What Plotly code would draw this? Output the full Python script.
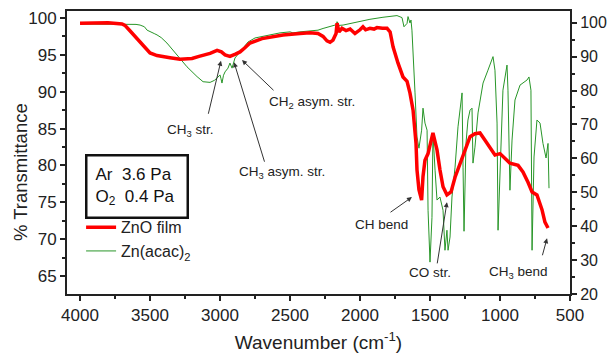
import plotly.graph_objects as go

# ZnO film (red) - left axis, % transmittance
zno_wn = [4000, 3900, 3800, 3700, 3679, 3650, 3600, 3550, 3500, 3450, 3400, 3357, 3286, 3200,
          3150, 3071, 3021, 2990, 2964, 2929, 2890, 2857, 2820, 2786, 2700, 2643, 2550, 2429,
          2357, 2300, 2264, 2236, 2214, 2193, 2171, 2164, 2150, 2129, 2100, 2071, 2050, 2036,
          2000, 1979, 1960, 1929, 1900, 1879, 1840, 1807, 1785, 1764, 1729, 1693, 1664, 1643,
          1621, 1600, 1593, 1579, 1560, 1550, 1536, 1514, 1479, 1450, 1429, 1407, 1379, 1350,
          1321, 1286, 1250, 1214, 1179, 1143, 1107, 1071, 1036, 1000, 964, 929, 871, 836, 800,
          771, 736, 700, 679, 657]
zno_t = [99.3, 99.3, 99.35, 99.2, 99.0, 98.4, 97.3, 96.2, 95.25, 94.9, 94.7, 94.6, 94.4, 94.5,
         94.8, 95.2, 95.6, 95.4, 95.0, 94.8, 95.1, 95.4, 96.0, 96.6, 97.2, 97.4, 97.7, 97.9,
         98.0, 97.9, 97.5, 96.9, 96.7, 97.0, 97.9, 99.3, 98.1, 98.6, 98.3, 98.5, 98.2, 97.9,
         98.4, 98.8, 98.4, 98.6, 98.5, 98.7, 98.6, 98.6, 98.1, 96.1, 93.9, 92.0, 91.4, 89.8,
         87.5, 83.0, 79.4, 76.7, 75.3, 78.5, 80.7, 81.6, 84.4, 82.1, 79.4, 77.1, 76.0, 76.4,
         78.4, 80.3, 82.1, 83.9, 84.3, 84.4, 83.4, 82.3, 81.4, 81.6, 81.0, 80.3, 80.0, 79.1, 77.7,
         76.4, 76.0, 74.0, 72.3, 71.5]

# Zn(acac)2 (green) - right axis
acac_wn = [4000, 3700, 3643, 3600, 3571, 3540, 3521, 3500, 3470, 3450, 3420, 3379, 3307, 3236,
           3164, 3121, 3071, 3040, 3021, 3000, 2993, 2986, 2975, 2964, 2943, 2929, 2914, 2893,
           2857, 2800, 2750, 2714, 2650, 2571, 2500, 2479, 2429, 2357, 2300, 2264, 2214, 2170,
           2164, 2150, 2121, 2021, 1929, 1836, 1736, 1700, 1686, 1664, 1657, 1643, 1636, 1629,
           1621, 1607, 1593, 1579, 1560, 1550, 1536, 1521, 1514, 1500, 1486, 1479, 1464, 1450,
           1429, 1407, 1393, 1379, 1371, 1357, 1343, 1321, 1300, 1271, 1264, 1257, 1243, 1229,
           1214, 1200, 1193, 1179, 1157, 1121, 1086, 1050, 1036, 1021, 1014, 1000, 979, 950,
           943, 929, 914, 893, 857, 807, 793, 779, 771, 757, 736, 714, 693, 671, 657, 650]
acac_t = [99.6, 99.6, 99.6, 99.5, 99.3, 98.8, 97.8, 97.3, 96.8, 96.4, 95.6, 94.0, 90.5, 87.0,
          84.1, 82.6, 82.4, 83.0, 83.7, 84.6, 83.5, 82.2, 84.5, 85.5, 86.6, 88.1, 86.6, 89.6,
          91.4, 94.3, 95.5, 95.8, 96.3, 97.0, 97.3, 97.0, 97.3, 97.5, 97.8, 98.3, 99.0, 99.4,
          100.3, 99.2, 99.3, 100.3, 101.0, 101.6, 102.1, 101.5, 98.8, 99.8, 101.8, 99.9, 100.8, 97.8,
          92.0, 79.3, 66.3, 63.0, 68.3, 74.8, 70.4, 68.3, 44.7, 29.4, 42.6, 67.4, 56.5, 47.7,
          48.6, 44.7, 32.9, 38.8, 32.9, 36.8, 48.6, 57.4, 69.3, 79.3, 57.4, 38.5, 64.4, 71.3,
          74.2, 74.8, 58.6, 63.3, 73.4, 82.2, 86.0, 90.0, 86.0, 70.4, 38.8, 55.6, 80.1, 87.5,
          80.1, 50.6, 65.4, 77.2, 81.6, 83.1, 84.0, 80.1, 32.9, 60.4, 71.3, 70.4, 64.4, 60.1, 64.4, 51.2]

x_ticks = [4000, 3500, 3000, 2500, 2000, 1500, 1000, 500]
left_ticks = [65, 70, 75, 80, 85, 90, 95, 100]
right_ticks = [20, 30, 40, 50, 60, 70, 80, 90, 100]

# annotations: (label, tip_wn, tip_T, tail_wn, tail_T, text_wn, text_T)
labels = [
    ("CH<sub>3</sub> str.", 2993, 94.2, 3086, 86.8, 3214, 84.8),
    ("CH<sub>3</sub> asym. str.", 2900, 94.0, 2679, 80.3, 2557, 79.1),
    ("CH<sub>2</sub> asym. str.", 2843, 94.3, 2607, 90.0, 2343, 88.5),
    ("CH bend", 1629, 75.7, 1793, 73.5, 1850, 72.0),
    ("CO str.", 1379, 75.0, 1450, 66.5, 1500, 65.5),
    ("CH<sub>3</sub> bend", 664, 70.1, 700, 67.6, 871, 65.5),
]

FONT = "Arial, Liberation Sans, sans-serif"
fig = go.Figure()
fig.add_trace(go.Scatter(x=acac_wn, y=acac_t, mode="lines", name="Zn(acac)<sub>2</sub>",
                         line=dict(color="rgb(40,150,40)", width=1), yaxis="y"))
fig.add_trace(go.Scatter(x=zno_wn, y=zno_t, mode="lines", name="ZnO film",
                         line=dict(color="rgb(255,0,0)", width=3.5), yaxis="y2"))

tickfont = dict(family=FONT, size=17, color="#222")
fig.update_layout(
    width=607, height=353,
    margin=dict(l=67, r=37, t=11, b=59, autoexpand=False),
    paper_bgcolor="white", plot_bgcolor="white",
    font=dict(family=FONT, color="#222"),
    xaxis=dict(range=[4093, 500], tickvals=x_ticks, ticks="outside", ticklen=5, tickwidth=1.5,
               tickcolor="#222", showline=True, linecolor="#222", linewidth=2, mirror=True,
               showgrid=False, zeroline=False, tickfont=tickfont, automargin=False,
               minor=dict(dtick=250, ticks="outside", ticklen=3, tickcolor="#222", showgrid=False),
               title=dict(text="Wavenumber (cm<sup>-1</sup>)", font=dict(family=FONT, size=19),
                          standoff=16)),
    yaxis=dict(range=[20, 103.45], side="right", tickvals=right_ticks, ticks="outside", ticklen=5,
               tickwidth=1.5, tickcolor="#222", showline=True, linecolor="#222", linewidth=2,
               showgrid=False, zeroline=False, automargin=False,
               tickfont=dict(family=FONT, size=16, color="#222"),
               minor=dict(dtick=5, ticks="outside", ticklen=3, tickcolor="#222", showgrid=False)),
    yaxis2=dict(range=[62.55, 100.95], side="left", overlaying="y", tickvals=left_ticks,
                ticks="outside", ticklen=5, tickwidth=1.5, tickcolor="#222", showline=True,
                linecolor="#222", linewidth=2, showgrid=False, zeroline=False, tickfont=tickfont,
                automargin=False,
                minor=dict(dtick=2.5, ticks="outside", ticklen=3, tickcolor="#222", showgrid=False)),
    legend=dict(x=0.028, y=0.296, xanchor="left", yanchor="top", traceorder="reversed",
                bgcolor="rgba(0,0,0,0)", font=dict(family=FONT, size=16, color="#222"),
                tracegroupgap=0),
    showlegend=True,
)

# y-axis title placed like the reference (slightly below centre)
fig.add_annotation(x=-0.092, y=0.43, xref="paper", yref="paper", text="% Transmittance",
                   textangle=-90, showarrow=False, xanchor="center", yanchor="middle",
                   font=dict(family=FONT, size=18.5, color="#222"))

for lab, tx, ty, ax, ay, lx, ly in labels:
    fig.add_annotation(x=tx, y=ty, ax=ax, ay=ay, xref="x", yref="y2", axref="x", ayref="y2",
                       text="", showarrow=True, arrowhead=2, arrowsize=1, arrowwidth=1,
                       arrowcolor="#333", standoff=0, startstandoff=0)
    fig.add_annotation(x=lx, y=ly, xref="x", yref="y2", text=lab, showarrow=False,
                       font=dict(family=FONT, size=13.5, color="#222"))

fig.add_annotation(x=0.036, y=0.496, xref="paper", yref="paper", xanchor="left", yanchor="top",
                   text="Ar  3.6 Pa<br>O<sub>2</sub>  0.4 Pa ", align="left", showarrow=False,
                   font=dict(family=FONT, size=17, color="#111"), bordercolor="#111",
                   borderwidth=2.5, borderpad=8, bgcolor="white")

fig.write_html("out.html")
